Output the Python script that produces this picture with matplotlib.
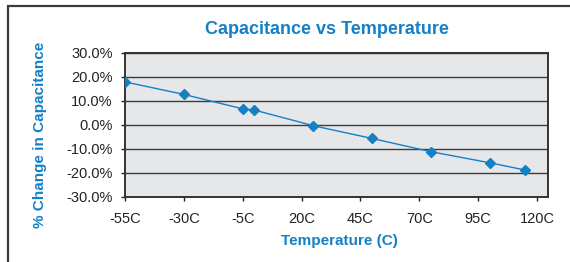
import matplotlib.pyplot as plt
from matplotlib.patches import Rectangle
from matplotlib.ticker import FuncFormatter

plt.rcParams['font.family'] = ['Liberation Sans', 'DejaVu Sans']

temps = [-55, -30, -5, 0, 25, 50, 75, 100, 115]
change = [17.8, 12.6, 6.6, 6.1, -0.4, -5.7, -11.2, -15.8, -18.8]
xticks = [-55, -30, -5, 20, 45, 70, 95, 120]
yticks = [-30, -20, -10, 0, 10, 20, 30]

blue = '#1480c6'
dark = '#333333'

fig = plt.figure(figsize=(5.7, 2.62), dpi=100)
fig.patch.set_facecolor('white')

# outer frame (cut off on right and bottom like the source)
fig.patches.append(Rectangle((8 / 570, -0.1), 1.0, 1 - 5.5 / 262 + 0.1,
                             transform=fig.transFigure, fill=False,
                             edgecolor='#3a3a3a', linewidth=1.6))

ax = fig.add_axes([125 / 570, 1 - 197 / 262, 423 / 570, 144.5 / 262])
ax.set_facecolor('#e6e7e8')
ax.plot(temps, change, color=blue, linewidth=1.0, marker='D', markersize=5.5,
        markerfacecolor=blue, markeredgecolor=blue, zorder=3)

ax.set_xlim(-55, 124.7)
ax.set_ylim(-30, 30)
ax.set_xticks(xticks)
ax.set_xticklabels([f'{t}C' for t in xticks])
ax.set_yticks(yticks)
ax.yaxis.set_major_formatter(FuncFormatter(lambda v, p: f'{v:.1f}%'))
ax.grid(axis='y', color='#3c3c3c', linewidth=1.0)
ax.set_axisbelow(True)

for s in ax.spines.values():
    s.set_color(dark)
    s.set_linewidth(1.4)
ax.tick_params(axis='both', colors='#222222', labelsize=10.5, length=3,
               width=1, direction='out')
ax.tick_params(axis='y', pad=6)
ax.tick_params(axis='x', pad=8)

fig.text(327 / 570, 1 - 30 / 262, 'Capacitance vs Temperature', color=blue,
         fontsize=13, fontweight='bold', ha='center', va='center')
fig.text(40 / 570, 1 - 135 / 262, '% Change in Capacitance', color=blue,
         fontsize=11, fontweight='bold', ha='center', va='center', rotation=90)
fig.text(339 / 570, 1 - 241.5 / 262, 'Temperature (C)', color=blue,
         fontsize=11, fontweight='bold', ha='center', va='center')

fig.savefig('out.png', dpi=100)
